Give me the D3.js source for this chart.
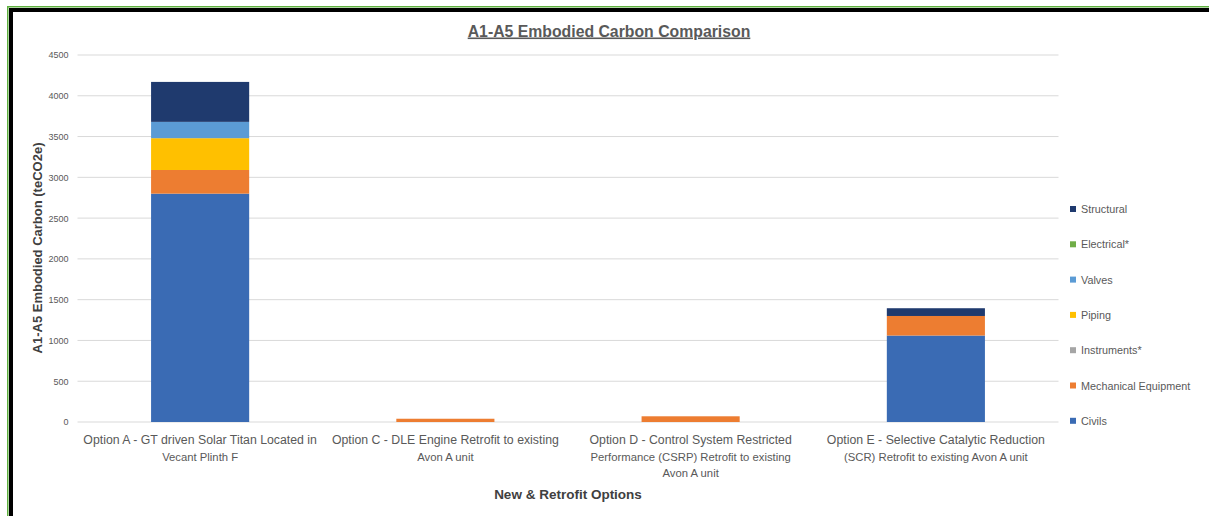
<!DOCTYPE html>
<html><head><meta charset="utf-8">
<script src="https://cdn.jsdelivr.net/npm/d3@7"></script>
<style>body{margin:0;background:#fff;}svg{display:block;}</style>
</head><body>
<svg id="c" width="1209" height="516"></svg>
<script>
const categories = ["A", "C", "D", "E"];
const categoryLabels = [
  ["Option A - GT driven Solar Titan Located in", "Vecant Plinth F"],
  ["Option C - DLE Engine Retrofit to existing", "Avon A unit"],
  ["Option D - Control System Restricted", "Performance (CSRP) Retrofit to existing", "Avon A unit"],
  ["Option E - Selective Catalytic Reduction", "(SCR) Retrofit to existing Avon A unit"]
];
const seriesNames = ["Civils", "Mechanical Equipment", "Instruments*", "Piping", "Valves", "Electrical*", "Structural"];
const civils = [2800, 0, 0, 1060];
const mechanical = [290, 40, 70, 240];
const instruments = [0, 0, 0, 0];
const piping = [390, 0, 0, 0];
const valves = [200, 0, 0, 0];
const electrical = [0, 0, 0, 0];
const structural = [490, 0, 0, 95];
const yTicks = [0, 500, 1000, 1500, 2000, 2500, 3000, 3500, 4000, 4500];
const colors = ["#3A6BB4", "#ED7D31", "#A5A5A5", "#FFC000", "#5B9BD5", "#70AD47", "#1F3A6E"];

const seriesValues = [civils, mechanical, instruments, piping, valves, electrical, structural];
const rows = categories.map((c, i) => {
  const r = {cat: c};
  seriesNames.forEach((s, j) => r[s] = seriesValues[j][i]);
  return r;
});

const svg = d3.select("#c");
const font = "'Liberation Sans', Arial, sans-serif";
const pLeft = 77.5, pRight = 1058.5, pTop = 55, pBottom = 422;

const x = d3.scaleBand().domain(categories).range([pLeft, pRight]).paddingInner(0.6).paddingOuter(0.3);
const y = d3.scaleLinear().domain([0, 4500]).range([pBottom, pTop]);

// gridlines
svg.append("g").selectAll("line").data(yTicks).join("line")
  .attr("x1", pLeft).attr("x2", pRight)
  .attr("y1", d => y(d)).attr("y2", d => y(d))
  .attr("stroke", "#d9d9d9").attr("stroke-width", 1);

// y axis labels
const yAxis = d3.axisLeft(y).tickValues(yTicks).tickFormat(d3.format("d")).tickSize(0).tickPadding(9);
const yg = svg.append("g").attr("transform", `translate(${pLeft},0)`).call(yAxis);
yg.select(".domain").remove();
yg.selectAll("text").attr("font-family", font).attr("font-size", 9).attr("fill", "#595959");

// stacked bars
const stack = d3.stack().keys(seriesNames)(rows);
svg.append("g").selectAll("g").data(stack).join("g")
  .attr("fill", (d, i) => colors[i])
  .selectAll("rect").data(d => d).join("rect")
  .attr("x", d => x(d.data.cat))
  .attr("width", x.bandwidth())
  .attr("y", d => y(d[1]))
  .attr("height", d => Math.max(0, y(d[0]) - y(d[1])));

// x axis labels
const xg = svg.append("g");
categories.forEach((c, i) => {
  const t = xg.append("text")
    .attr("x", x(c) + x.bandwidth() / 2)
    .attr("y", 444)
    .attr("text-anchor", "middle")
    .attr("font-family", font).attr("fill", "#595959");
  categoryLabels[i].forEach((line, k) => {
    t.append("tspan").attr("x", x(c) + x.bandwidth() / 2)
      .attr("dy", k === 0 ? 0 : 16.5)
      .attr("font-size", k === 0 ? 12.3 : 11.3)
      .text(line);
  });
});

// axis titles
svg.append("text").attr("x", 568).attr("y", 499).attr("text-anchor", "middle")
  .attr("font-family", font).attr("font-weight", "bold").attr("font-size", 13.5)
  .attr("fill", "#404040").text("New & Retrofit Options");
svg.append("text").attr("transform", "translate(42,248) rotate(-90)").attr("text-anchor", "middle")
  .attr("font-family", font).attr("font-weight", "bold").attr("font-size", 13)
  .attr("fill", "#404040").text("A1-A5 Embodied Carbon (teCO2e)");

// title
svg.append("text").attr("x", 609).attr("y", 36.5).attr("text-anchor", "middle")
  .attr("font-family", font).attr("font-weight", "bold").attr("font-size", 15.8)
  .attr("fill", "#595959").attr("text-decoration", "underline")
  .text("A1-A5 Embodied Carbon Comparison");

// legend (reverse order, Structural on top)
const legendOrder = seriesNames.map((s, i) => ({s, c: colors[i]})).reverse();
const lg = svg.append("g");
legendOrder.forEach((d, i) => {
  const yy = 210 + i * 35.3;
  lg.append("rect").attr("x", 1070).attr("y", yy - 4).attr("width", 6).attr("height", 6).attr("fill", d.c);
  lg.append("text").attr("x", 1081).attr("y", yy + 3)
    .attr("font-family", font).attr("font-size", 10.8).attr("fill", "#595959").text(d.s);
});

// frame
svg.append("rect").attr("x", 7).attr("y", 6).attr("width", 1202).attr("height", 1.5).attr("fill", "#5fb040");
svg.append("rect").attr("x", 7).attr("y", 6).attr("width", 1.5).attr("height", 510).attr("fill", "#5fb040");
svg.append("rect").attr("x", 9).attr("y", 8).attr("width", 1200).attr("height", 4).attr("fill", "#000");
svg.append("rect").attr("x", 9).attr("y", 8).attr("width", 4).attr("height", 508).attr("fill", "#000");
</script>
</body></html>
